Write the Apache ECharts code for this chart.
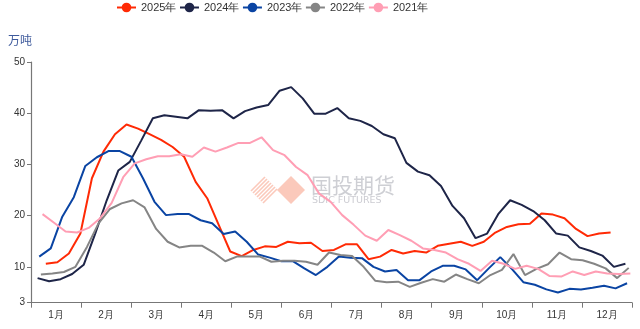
<!DOCTYPE html>
<html>
<head>
<meta charset="utf-8">
<script src="https://cdn.jsdelivr.net/npm/echarts@6/dist/echarts.min.js"></script>
<style>
  html, body { margin: 0; padding: 0; background: #fff; }
  #chart { width: 640px; height: 329px; }
</style>
</head>
<body>
<div id="chart"></div>
<script>
// Month labels along the bottom axis
const months = ['1月', '2月', '3月', '4月', '5月', '6月', '7月', '8月', '9月', '10月', '11月', '12月'];

// Weekly readings (万吨), one value per Friday starting at the given date
const start2025 = '2025-01-10';
const s2025 = [10.6, 10.9, 12.6, 16.5, 27.3, 32.5, 35.9, 37.8, 37.0, 35.9, 34.8, 33.4, 31.5, 26.6, 23.4, 18.2, 13.0, 12.1, 13.3, 14.0,
  13.9, 14.9, 14.6, 14.7, 13.1, 13.3, 14.4, 14.4, 11.5, 12.0, 13.3, 12.6, 13.1, 12.8, 14.1, 14.5, 14.9, 14.1, 14.9, 16.7,
  17.8, 18.3, 18.4, 20.4, 20.2, 19.5, 17.4, 16.0, 16.5, 16.7];

const start2024 = '2024-01-05';
const s2024 = [7.8, 7.2, 7.6, 8.6, 10.4, 16.5, 23.0, 28.8, 30.5, 34.7, 39.0, 39.6, 39.3, 39.0, 40.6, 40.5, 40.6, 39.0, 40.4, 41.1,
  41.6, 44.4, 45.1, 42.9, 39.9, 39.9, 41.0, 39.0, 38.5, 37.5, 35.9, 35.1, 30.3, 28.6, 27.9, 25.8, 21.9, 19.5, 15.6, 16.5,
  20.4, 23.0, 22.1, 20.9, 19.1, 16.5, 16.1, 13.8, 13.1, 12.2, 10.0, 10.6];

const start2023 = '2023-01-06';
const s2023 = [12.0, 13.6, 19.8, 23.6, 29.7, 31.4, 32.6, 32.6, 31.5, 27.3, 22.7, 20.1, 20.3, 20.3, 19.1, 18.5, 16.4, 16.9, 14.9, 12.4,
  11.8, 11.1, 11.1, 9.7, 8.4, 10.0, 12.0, 11.8, 11.7, 10.0, 9.1, 9.4, 7.4, 7.4, 9.1, 10.2, 10.2, 9.5, 7.4, 9.7,
  11.9, 9.6, 7.0, 6.5, 5.6, 5.0, 5.7, 5.6, 5.9, 6.3, 5.8, 6.8];

const start2022 = '2022-01-07';
const s2022 = [8.5, 8.7, 9.0, 10.0, 13.9, 18.5, 21.3, 22.4, 23.0, 21.6, 17.4, 14.9, 13.8, 14.1, 14.1, 12.8, 11.1, 12.0, 12.0, 12.0,
  11.0, 11.2, 11.2, 11.0, 10.4, 12.8, 12.3, 12.1, 10.0, 7.3, 7.0, 7.1, 6.1, 6.9, 7.6, 7.1, 8.5, 7.6, 6.8, 8.4,
  9.4, 12.5, 8.4, 9.6, 10.5, 12.8, 11.5, 11.3, 10.6, 9.7, 7.8, 9.8];

const start2021 = '2021-01-08';
const s2021 = [20.3, 18.6, 16.9, 16.7, 17.6, 19.5, 22.5, 27.5, 30.2, 31.0, 31.6, 31.6, 32.0, 31.5, 33.3, 32.5, 33.3, 34.2, 34.2, 35.3,
  32.8, 31.8, 29.5, 27.9, 24.3, 22.7, 20.1, 18.2, 16.1, 15.1, 17.2, 16.2, 15.1, 13.6, 13.3, 12.8, 11.5, 10.6, 9.2, 11.2,
  10.6, 9.6, 10.2, 9.6, 8.2, 8.1, 9.1, 8.4, 9.1, 8.7, 8.6, 8.7];

// Value axis range
const yMin = 3;
const yMax = 50;

// Day of year (0 = 1 Jan) for each weekly reading
function dayOffsets(startStr, values) {
  const p = startStr.split('-').map(Number);
  const first = (Date.UTC(p[0], p[1] - 1, p[2]) - Date.UTC(p[0], 0, 1)) / 86400000;
  return values.map((v, i) => [first + 7 * i, v]);
}

const seriesDefs = [
  { name: '2025年', start: start2025, values: s2025, color: '#FF2A05' },
  { name: '2024年', start: start2024, values: s2024, color: '#1E2548' },
  { name: '2023年', start: start2023, values: s2023, color: '#0A44A3' },
  { name: '2022年', start: start2022, values: s2022, color: '#858585' },
  { name: '2021年', start: start2021, values: s2021, color: '#FF9EB4' }
];

// Diagonal stripes for the logo mark: lines x+y = const clipped to a diamond
function stripeLines(cx, cy, h, gap, color) {
  const out = [];
  for (let s = -h + gap / 2; s <= h; s += gap) {
    out.push({
      type: 'line',
      silent: true,
      shape: { x1: cx + (s - h) / 2, y1: cy + (s + h) / 2, x2: cx + (s + h) / 2, y2: cy + (s - h) / 2 },
      style: { stroke: color, lineWidth: 1.6, opacity: 0.6 }
    });
  }
  return out;
}

const chart = echarts.init(document.getElementById('chart'), null, { renderer: 'canvas' });

const logoColor = '#F9A58E';
const option = {
  animation: false,
  backgroundColor: '#ffffff',
  textStyle: { fontFamily: 'Liberation Sans, Arial, sans-serif' },
  legend: {
    top: 0,
    left: 111,
    padding: [2, 5, 5, 5],
    itemWidth: 19,
    itemHeight: 12,
    itemGap: 2.5,
    textStyle: { fontSize: 11, color: '#333', fontFamily: 'Liberation Sans, Arial, sans-serif' },
    data: seriesDefs.map(d => d.name)
  },
  grid: { left: 31, right: 8, top: 62, bottom: 26.3, containLabel: false },
  graphic: [
    {
      type: 'group',
      silent: true,
      z: 0,
      children: stripeLines(264, 190, 14, 4, logoColor).concat([
        {
          type: 'polygon',
          shape: { points: [[291, 176], [305, 190], [291, 204], [277, 190]] },
          style: { fill: logoColor, opacity: 0.6 }
        },
        {
          type: 'text',
          left: 311, top: 175,
          style: { text: '国投期货', fill: '#B9BAC2', opacity: 0.7, font: '21px "Noto Sans CJK SC", sans-serif' }
        },
        {
          type: 'text',
          left: 312, top: 196,
          style: { text: 'SDIC FUTURES', fill: '#B9BAC2', opacity: 0.75, font: '9.5px "DejaVu Sans", sans-serif' }
        }
      ])
    },
    {
      type: 'text',
      left: 8, top: 34,
      style: { text: '万吨', fill: '#3E5A9C', font: '12px "Noto Sans CJK SC", sans-serif' }
    }
  ],
  xAxis: [
    {
      type: 'category',
      data: months,
      boundaryGap: true,
      axisLine: { lineStyle: { color: '#777', width: 1.2 } },
      axisTick: { show: true, length: 5, lineStyle: { color: '#777' } },
      axisLabel: { color: '#333', fontSize: 10, margin: 8 },
      splitLine: { show: false }
    },
    {
      type: 'value',
      min: 0,
      max: 365,
      show: false
    }
  ],
  yAxis: {
    type: 'value',
    min: yMin,
    max: yMax,
    axisLine: { show: true, lineStyle: { color: '#777', width: 1.2 } },
    axisTick: { show: true, length: 4, lineStyle: { color: '#777' } },
    axisLabel: { color: '#333', fontSize: 10, margin: 6 },
    splitLine: { show: false }
  },
  series: seriesDefs.map(d => ({
    name: d.name,
    type: 'line',
    xAxisIndex: 1,
    data: dayOffsets(d.start, d.values),
    symbol: 'circle',
    showSymbol: false,
    smooth: false,
    z: 3,
    itemStyle: { color: d.color },
    lineStyle: { color: d.color, width: 2 }
  }))
};

chart.setOption(option);
</script>
</body>
</html>
